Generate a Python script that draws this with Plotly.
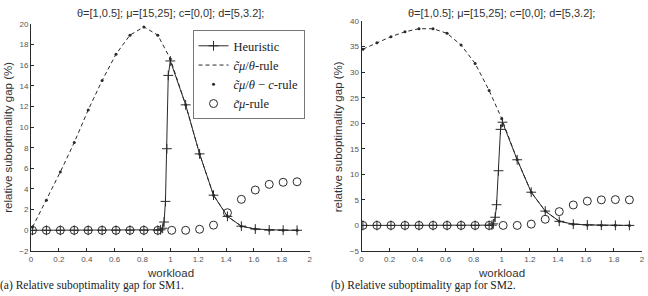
import plotly.graph_objects as go

# ---------------- data ----------------
x_main = [0.01, 0.11, 0.21, 0.31, 0.41, 0.51, 0.61, 0.71, 0.81, 0.91,
          1.01, 1.11, 1.21, 1.31, 1.41, 1.51, 1.61, 1.71, 1.81, 1.91]

# Panel (a) SM1
x_dash_a = [0.01, 0.11, 0.21, 0.31, 0.41, 0.51, 0.61, 0.71, 0.81, 0.91,
            1.0, 1.11, 1.21, 1.31, 1.41, 1.51, 1.61, 1.71, 1.81, 1.91]
dash_a = [0.3, 2.9, 5.65, 8.5, 11.65, 14.5, 17.06, 18.9, 19.7, 18.9,
          16.6, 12.15, 7.4, 3.4, 1.35, 0.4, 0.12, 0.03, 0.01, 0.0]
x_heur_a = [0.01, 0.11, 0.21, 0.31, 0.41, 0.51, 0.61, 0.71, 0.81, 0.91,
            0.93, 0.945, 0.955, 0.965, 0.975, 0.985, 1.0,
            1.11, 1.21, 1.31, 1.41, 1.51, 1.61, 1.71, 1.81, 1.91]
heur_a = [0, 0, 0, 0, 0, 0, 0, 0, 0, 0,
          0.05, 0.2, 0.8, 2.8, 7.9, 15.0, 16.4,
          12.15, 7.4, 3.4, 1.35, 0.4, 0.12, 0.03, 0.01, 0.0]
circ_a = [0, 0, 0, 0, 0, 0, 0, 0, 0, 0, 0, 0,
          0.1, 0.5, 1.7, 3.0, 3.9, 4.45, 4.65, 4.7]

# Panel (b) SM2
x_dash_b = [0.01, 0.11, 0.21, 0.31, 0.41, 0.51, 0.61, 0.71, 0.81, 0.91,
            1.0, 1.11, 1.21, 1.31, 1.41, 1.51, 1.61, 1.71, 1.81, 1.91]
dash_b = [34.5, 35.75, 36.95, 37.9, 38.5, 38.5, 37.6, 35.3, 31.7, 26.4,
          20.9, 12.85, 6.5, 2.8, 0.8, 0.25, 0.1, 0.03, 0.01, 0.0]
x_heur_b = [0.01, 0.11, 0.21, 0.31, 0.41, 0.51, 0.61, 0.71, 0.81, 0.91,
            0.93, 0.94, 0.953, 0.963, 0.977, 0.991, 1.005,
            1.11, 1.21, 1.31, 1.41, 1.51, 1.61, 1.71, 1.81, 1.91]
heur_b = [0, 0, 0, 0, 0, 0, 0, 0, 0, 0,
          0.05, 0.3, 1.6, 4.05, 10.7, 18.8, 20.2,
          12.85, 6.5, 2.8, 0.8, 0.25, 0.1, 0.03, 0.01, 0.0]
circ_b = [0, 0, 0, 0, 0, 0, 0, 0, 0, 0, 0, 0,
          0.25, 1.2, 2.7, 4.0, 4.75, 5.0, 5.05, 5.0]

x_ticks = [0, 0.2, 0.4, 0.6, 0.8, 1, 1.2, 1.4, 1.6, 1.8, 2]
y_ticks_a = [-2, 0, 2, 4, 6, 8, 10, 12, 14, 16, 18, 20]
y_ticks_b = [-5, 0, 5, 10, 15, 20, 25, 30, 35, 40]

title_text = "θ=[1,0.5]; μ=[15,25]; c=[0,0]; d=[5,3.2];"
names = ["Heuristic",
         "<i>c̃μ</i>/<i>θ</i>-rule",
         "<i>c̃μ</i>/<i>θ</i> − <i>c</i>-rule",
         "<i>c̃μ</i>-rule"]

# ---------------- figure ----------------
W, H = 648, 296
LC = "#2a2a2a"
fig = go.Figure()

def add_panel(xa, ya, xd, yd, xh, yh, yc, show):
    fig.add_trace(go.Scatter(x=xh, y=yh, mode="lines+markers", name=names[0],
                             line=dict(color=LC, width=1),
                             marker=dict(symbol="cross-thin-open", size=7, color=LC,
                                         line=dict(color=LC, width=1)),
                             xaxis=xa, yaxis=ya, showlegend=show))
    fig.add_trace(go.Scatter(x=xd, y=yd, mode="lines", name=names[1],
                             line=dict(color=LC, width=1, dash="4px,3px"),
                             xaxis=xa, yaxis=ya, showlegend=show))
    fig.add_trace(go.Scatter(x=xd, y=yd, mode="markers", name=names[2],
                             marker=dict(symbol="circle", size=3, color=LC),
                             xaxis=xa, yaxis=ya, showlegend=show))
    fig.add_trace(go.Scatter(x=x_main, y=yc, mode="markers", name=names[3],
                             marker=dict(symbol="circle-open", size=8, color=LC,
                                         line=dict(color=LC, width=1)),
                             xaxis=xa, yaxis=ya, showlegend=show))

add_panel("x", "y", x_dash_a, dash_a, x_heur_a, heur_a, circ_a, True)
add_panel("x2", "y2", x_dash_b, dash_b, x_heur_b, heur_b, circ_b, False)

axis_common = dict(showline=True, linecolor=LC, linewidth=1, mirror=False,
                   ticks="inside", ticklen=3, tickcolor=LC, showgrid=False,
                   zeroline=False,
                   tickfont=dict(family="Liberation Sans", size=8, color="#555"))

def px_x(p):
    return p / W

def px_y(p):
    return 1 - p / H

fig.update_layout(
    width=W, height=H,
    margin=dict(l=0, r=0, t=0, b=0),
    paper_bgcolor="white", plot_bgcolor="white",
    xaxis=dict(domain=[px_x(29.3), px_x(310)], range=[0, 2],
               tickvals=x_ticks, anchor="y", **axis_common),
    yaxis=dict(domain=[px_y(254.7), px_y(20.4)], range=[-2, 20],
               tickvals=y_ticks_a, anchor="x", **axis_common),
    xaxis2=dict(domain=[px_x(362.3), px_x(645)], range=[0, 2],
                tickvals=x_ticks, anchor="y2", **axis_common),
    yaxis2=dict(domain=[px_y(254.7), px_y(17.6)], range=[-5, 40],
                tickvals=y_ticks_b, anchor="x2", **axis_common),
    legend=dict(x=px_x(192), y=px_y(27), xanchor="left", yanchor="top",
                bordercolor="#777", borderwidth=1, bgcolor="white",
                font=dict(family="Liberation Serif", size=12.5, color="#222"),
                itemwidth=30, tracegroupgap=0),
    showlegend=True,
)

ann = []
sans = "Liberation Sans"
for cx in (170, 503):
    ann.append(dict(x=px_x(cx), y=px_y(9), text=title_text, showarrow=False,
                    xref="paper", yref="paper", xanchor="center", yanchor="middle",
                    font=dict(family=sans, size=11, color="#333")))
    ann.append(dict(x=px_x(cx), y=px_y(277), text="workload", showarrow=False,
                    xref="paper", yref="paper", xanchor="center", yanchor="middle",
                    font=dict(family=sans, size=11.5, color="#333")))
for cx in (6, 338):
    ann.append(dict(x=px_x(cx), y=px_y(137), text="relative suboptimality gap (%)",
                    showarrow=False, textangle=-90,
                    xref="paper", yref="paper", xanchor="center", yanchor="middle",
                    font=dict(family=sans, size=11.5, color="#333")))
ann.append(dict(x=px_x(-4), y=px_y(290), text="(a) Relative suboptimality gap for SM1.",
                showarrow=False, xref="paper", yref="paper", xanchor="left",
                yanchor="middle", font=dict(family="Liberation Serif", size=11.5, color="#222")))
ann.append(dict(x=px_x(330), y=px_y(290), text="(b) Relative suboptimality gap for SM2.",
                showarrow=False, xref="paper", yref="paper", xanchor="left",
                yanchor="middle", font=dict(family="Liberation Serif", size=11.5, color="#222")))
fig.update_layout(annotations=ann)

fig.write_html("out.html")
